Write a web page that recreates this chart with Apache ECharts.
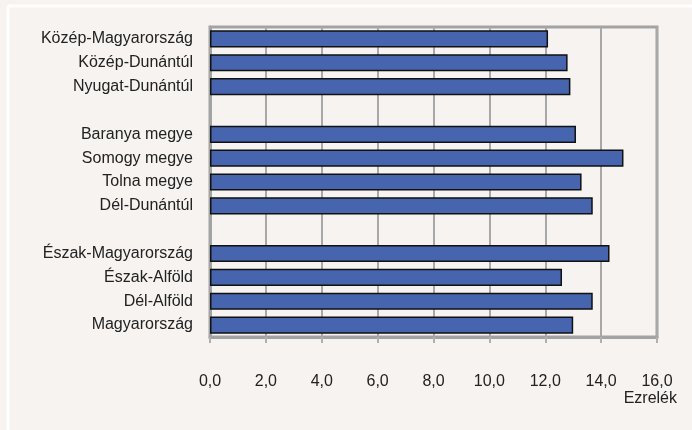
<!DOCTYPE html>
<html>
<head>
<meta charset="utf-8">
<script src="https://cdn.jsdelivr.net/npm/echarts@6/dist/echarts.min.js"></script>
<style>
  html, body { margin: 0; padding: 0; background: #f6f3f0; overflow: hidden; }
  #chart { width: 692px; height: 430px; }
</style>
</head>
<body>
<div id="chart"></div>
<script>
// régiók (felülről lefelé), üres sorok a csoportok között
var regions = [
  'Közép-Magyarország', 'Közép-Dunántúl', 'Nyugat-Dunántúl', ' ',
  'Baranya megye', 'Somogy megye', 'Tolna megye', 'Dél-Dunántúl', '  ',
  'Észak-Magyarország', 'Észak-Alföld', 'Dél-Alföld', 'Magyarország'
];
var rates = [12.1, 12.8, 12.9, null, 13.1, 14.8, 13.3, 13.7, null, 14.3, 12.6, 13.7, 13.0];
var unitLabel = 'Ezrelék';

var font = '"Liberation Sans", Arial, sans-serif';

var chart = echarts.init(document.getElementById('chart'));

var option = {
  backgroundColor: '#f6f3f0',
  animation: false,
  textStyle: { fontFamily: font },
  graphic: [
    // fehér keret (csak felül és balra látszik)
    {
      type: 'line',
      shape: { x1: 8, y1: 6, x2: 692, y2: 6 },
      style: { stroke: '#ffffff', lineWidth: 3 },
      silent: true
    },
    {
      type: 'line',
      shape: { x1: 8, y1: 6, x2: 8, y2: 430 },
      style: { stroke: '#ffffff', lineWidth: 3 },
      silent: true
    },
    {
      type: 'text',
      right: 15,
      top: 391,
      style: { text: unitLabel, font: '16px ' + font, fill: '#222' }
    }
  ],
  grid: {
    left: 210,
    right: 35,
    top: 27,
    bottom: 93,
    show: true,
    borderColor: '#a3a3a3',
    borderWidth: 3
  },
  xAxis: {
    type: 'value',
    min: 0,
    max: 16,
    interval: 2,
    axisLine: { show: true, lineStyle: { color: '#a3a3a3', width: 3 } },
    axisTick: { show: true, length: 6, lineStyle: { color: '#b0b0b0', width: 2 } },
    splitLine: { show: true, lineStyle: { color: '#a8a8a8', width: 2 } },
    axisLabel: {
      margin: 37,
      color: '#222',
      fontSize: 16,
      fontFamily: font,
      formatter: function (v) { return v.toFixed(1).replace('.', ','); }
    }
  },
  yAxis: {
    type: 'category',
    inverse: true,
    data: regions,
    axisLine: { show: true, lineStyle: { color: '#a3a3a3', width: 3 } },
    axisTick: { show: false },
    axisLabel: { margin: 17, color: '#222', fontSize: 16, fontFamily: font }
  },
  series: [
    {
      type: 'bar',
      data: rates,
      barCategoryGap: '28%',
      itemStyle: {
        color: '#4765ae',
        borderColor: '#111',
        borderWidth: 1.5
      }
    }
  ]
};

chart.setOption(option);
</script>
</body>
</html>
